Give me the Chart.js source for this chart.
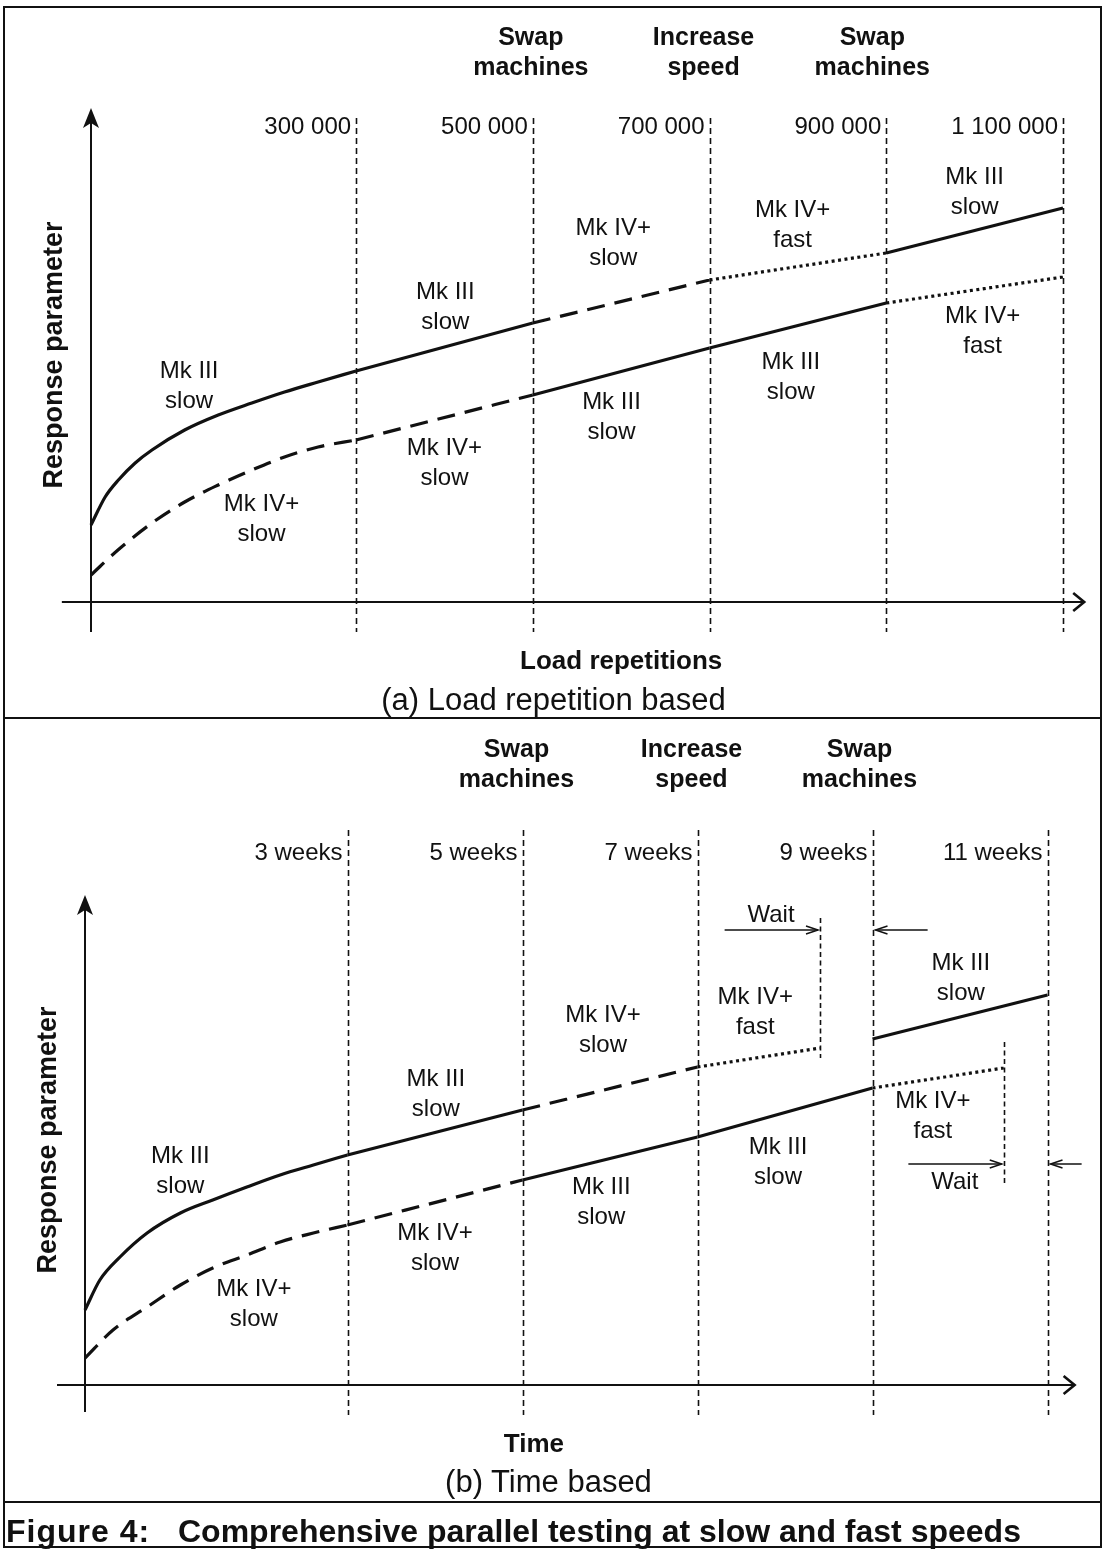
<!DOCTYPE html>
<html>
<head>
<meta charset="utf-8">
<script src="https://cdn.jsdelivr.net/npm/chart.js@4.4.1/dist/chart.umd.min.js"></script>
<style>
  body { margin: 0; background: #fff; font-family: "Liberation Sans", Arial, sans-serif; color: #111; }
  #page { position: relative; width: 1109px; height: 1549px; overflow: hidden; }
  canvas { position: absolute; left: 0; }
  #frame { position: absolute; left: 3px; top: 6px; width: 1099px; height: 1542px; border: 2px solid #111; box-sizing: border-box; }
  .hline { position: absolute; left: 3px; width: 1099px; border-top: 2px solid #111; }
  .sub { position: absolute; left: 0; width: 1109px; text-align: center; font-size: 31px; line-height: 36px; }
  .cap { position: absolute; top: 1513px; font-size: 32px; font-weight: bold; line-height: 36px; }
</style>
</head>
<body>
<div id="page">
  <canvas id="chartA" width="1109" height="718" style="top:0"></canvas>
  <canvas id="chartB" width="1109" height="788" style="top:718px"></canvas>
  <div id="frame"></div>
  <div class="hline" style="top:717px"></div>
  <div class="hline" style="top:1501px"></div>
  <div class="sub" style="top:682px; left:-1px">(a) Load repetition based</div>
  <div class="sub" style="top:1464px; left:-6px">(b) Time based</div>
  <div class="cap" style="left:6px; letter-spacing:1px">Figure 4:</div>
  <div class="cap" style="left:178px">Comprehensive parallel testing at slow and fast speeds</div>
</div>
<script>
// ---- panel (a): load repetition based ----
const repBounds = [300000, 500000, 700000, 900000, 1100000];
const repTicks = ['300 000', '500 000', '700 000', '900 000', '1 100 000'];
const repUpperX = [0, 16000, 31000, 50000, 69000, 106000, 144000, 182000, 219000, 257000, 300000, 500000, 700000, 900000, 1100000];
const repUpperY = [15.4, 21, 24.4, 27.8, 30.4, 34.4, 37.4, 39.8, 42, 44, 46.2, 55.8, 64.4, 69.8, 78.8];
const repLowerX = [0, 30500, 69000, 106000, 144000, 182000, 219000, 257000, 300000, 500000, 700000, 900000, 1100000];
const repLowerY = [5.4, 10.4, 15.8, 20, 23.4, 26.4, 29, 31, 32.4, 41.4, 50.8, 59.8, 65];

// ---- panel (b): time based ----
const weekBounds = [3, 5, 7, 9, 11];
const weekTicks = ['3 weeks', '5 weeks', '7 weeks', '9 weeks', '11 weeks'];
const weekUpperX = [0, 0.17, 0.4, 0.71, 1.09, 1.46, 1.85, 2.23, 2.61, 3, 5, 7, 8.4, 8.7, 9, 11];
const weekUpperY = [15, 21, 25.6, 30.4, 34.4, 37, 39.6, 42, 44, 46, 55, 63.6, 67.4, null, 69.2, 78];
const weekLowerX = [0, 0.32, 0.71, 1.09, 1.46, 1.85, 2.23, 2.61, 3, 5, 7, 9, 10.5];
const weekLowerY = [5.4, 11, 15.6, 20, 23.4, 26, 28.6, 30.4, 32, 41, 49.6, 59.4, 63.4];
const waitEnds = [8.4, 10.5];

// which machine / speed runs in each phase
const upperPhases = ['Mk III slow', 'Mk III slow', 'Mk IV+ slow', 'Mk IV+ fast', 'Mk III slow'];
const lowerPhases = ['Mk IV+ slow', 'Mk IV+ slow', 'Mk III slow', 'Mk III slow', 'Mk IV+ fast'];
const events = ['Swap machines', 'Increase speed', 'Swap machines']; // at bounds 1..3

const INK = '#111';
const FONT = '"Liberation Sans", Arial, sans-serif';

function dashFor(phase) {
  if (phase === 'Mk IV+ fast') return [3, 3.5];
  if (phase === 'Mk IV+ slow') return [18, 10];
  return [];
}

// one dataset per phase, so the line style changes at each boundary
function pieces(xs, ys, phases, bounds) {
  const lo = [0].concat(bounds);
  return phases.map((p, i) => {
    const pts = [];
    xs.forEach((x, k) => {
      if (x >= lo[i] && x <= lo[i + 1]) pts.push({ x: x, y: ys[k] });
    });
    return {
      data: pts,
      borderColor: INK,
      borderWidth: 3.2,
      borderDash: dashFor(p),
      pointRadius: 0,
      cubicInterpolationMode: 'monotone',
      spanGaps: false,
      clip: false
    };
  });
}

function seg(ctx, x1, y1, x2, y2) {
  ctx.beginPath();
  ctx.moveTo(x1, y1);
  ctx.lineTo(x2, y2);
  ctx.stroke();
}

function text2(ctx, lines, px, py, gap) {
  lines.forEach((t, i) => ctx.fillText(t, px, py + (i - (lines.length - 1) / 2) * gap));
}

function smallArrow(ctx, x1, y, x2) {
  const d = x2 > x1 ? 1 : -1;
  ctx.setLineDash([]);
  ctx.lineWidth = 1.5;
  seg(ctx, x1, y, x2, y);
  ctx.beginPath();
  ctx.moveTo(x2 - d * 12, y - 4);
  ctx.lineTo(x2, y);
  ctx.lineTo(x2 - d * 12, y + 4);
  ctx.stroke();
}

function sketch(cfg) {
  return {
    id: 'sketch',
    beforeDatasetsDraw(chart) {
      const ctx = chart.ctx;
      const xs = chart.scales.x, ys = chart.scales.y;
      ctx.save();
      ctx.strokeStyle = INK;
      ctx.fillStyle = INK;

      // phase boundaries
      ctx.lineWidth = 1.6;
      ctx.setLineDash([6, 4]);
      cfg.bounds.forEach(b => {
        const px = Math.round(xs.getPixelForValue(b)) + 0.5;
        seg(ctx, px, ys.getPixelForValue(cfg.phaseTop), px, ys.getPixelForValue(cfg.phaseBottom));
      });

      // axes
      ctx.setLineDash([]);
      ctx.lineWidth = 2;
      const ox = xs.getPixelForValue(0), oy = ys.getPixelForValue(0);
      const yTop = ys.getPixelForValue(cfg.yAxis[1]);
      seg(ctx, ox, ys.getPixelForValue(cfg.yAxis[0]), ox, yTop + 6);
      ctx.beginPath();
      ctx.moveTo(ox, yTop);
      ctx.lineTo(ox + 8, yTop + 20);
      ctx.lineTo(ox, yTop + 15);
      ctx.lineTo(ox - 8, yTop + 20);
      ctx.closePath();
      ctx.fill();
      const xEnd = xs.getPixelForValue(cfg.xAxis[1]);
      seg(ctx, xs.getPixelForValue(cfg.xAxis[0]), oy, xEnd, oy);
      ctx.lineWidth = 2.6;
      ctx.beginPath();
      ctx.moveTo(xEnd - 11, oy - 9);
      ctx.lineTo(xEnd, oy);
      ctx.lineTo(xEnd - 11, oy + 9);
      ctx.stroke();

      // wait markers (time based panel)
      if (cfg.waits) {
        ctx.lineWidth = 1.6;
        ctx.setLineDash([5, 3.5]);
        cfg.waits.forEach(w => {
          const px = Math.round(xs.getPixelForValue(w.at)) + 0.5;
          seg(ctx, px, ys.getPixelForValue(w.top), px, ys.getPixelForValue(w.bottom));
        });
        cfg.waits.forEach(w => {
          const ay = ys.getPixelForValue(w.arrowY);
          smallArrow(ctx, xs.getPixelForValue(w.from), ay, xs.getPixelForValue(w.at) - 2);
          smallArrow(ctx, xs.getPixelForValue(w.backFrom), ay, xs.getPixelForValue(w.backTo) + 3);
        });
      }
      ctx.restore();
    },
    afterDraw(chart) {
      const ctx = chart.ctx;
      const xs = chart.scales.x, ys = chart.scales.y;
      ctx.save();
      ctx.fillStyle = INK;
      ctx.textBaseline = 'middle';

      // tick labels at phase boundaries
      ctx.font = '24px ' + FONT;
      ctx.textAlign = 'right';
      cfg.bounds.forEach((b, i) => {
        ctx.fillText(cfg.ticks[i], xs.getPixelForValue(b) - 5, ys.getPixelForValue(cfg.tickY));
      });

      // events above the boundaries
      ctx.font = 'bold 25px ' + FONT;
      ctx.textAlign = 'center';
      events.forEach((e, i) => {
        const px = xs.getPixelForValue(cfg.bounds[i + 1]) + cfg.eventShift[i];
        text2(ctx, e.split(' '), px, ys.getPixelForValue(cfg.eventY), 30);
      });

      // machine / speed labels for each phase
      ctx.font = '24px ' + FONT;
      const lab = (p, at) => {
        const parts = p.split(' ');
        text2(ctx, [parts[0] + ' ' + parts[1], parts[2]], xs.getPixelForValue(at[0]), ys.getPixelForValue(at[1]), 30);
      };
      upperPhases.forEach((p, i) => lab(p, cfg.upperAt[i]));
      lowerPhases.forEach((p, i) => lab(p, cfg.lowerAt[i]));
      if (cfg.waits) {
        cfg.waits.forEach(w => ctx.fillText('Wait', xs.getPixelForValue(w.textAt[0]), ys.getPixelForValue(w.textAt[1])));
      }

      // axis titles
      ctx.font = 'bold 26px ' + FONT;
      ctx.fillText(cfg.xTitle, xs.getPixelForValue(cfg.xTitleAt[0]), ys.getPixelForValue(cfg.xTitleAt[1]));
      ctx.save();
      ctx.font = 'bold 27px ' + FONT;
      ctx.translate(xs.getPixelForValue(cfg.yTitleAt[0]), ys.getPixelForValue(cfg.yTitleAt[1]));
      ctx.rotate(-Math.PI / 2);
      ctx.fillText('Response parameter', 0, 0);
      ctx.restore();
      ctx.restore();
    }
  };
}

function makeChart(id, datasets, xMax, padding, cfg) {
  return new Chart(document.getElementById(id), {
    type: 'line',
    data: { datasets: datasets },
    options: {
      responsive: false,
      animation: false,
      devicePixelRatio: 1,
      layout: { padding: padding },
      plugins: { legend: { display: false }, tooltip: { enabled: false } },
      scales: {
        x: { type: 'linear', min: 0, max: xMax, display: false },
        y: { type: 'linear', min: 0, max: 100, display: false }
      }
    },
    plugins: [sketch(cfg)]
  });
}

makeChart('chartA',
  pieces(repUpperX, repUpperY, upperPhases, repBounds).concat(pieces(repLowerX, repLowerY, lowerPhases, repBounds)),
  1100000,
  { left: 91, right: 46, top: 102, bottom: 116 },
  {
    bounds: repBounds, ticks: repTicks,
    phaseTop: 96.8, phaseBottom: -6,
    yAxis: [-6, 98.8], xAxis: [-33000, 1124000],
    tickY: 95, eventY: 109.8, eventShift: [-2, -6, -14],
    upperAt: [[111000, 43.2], [401000, 59], [591000, 71.8], [794000, 75.4], [1000000, 82]],
    lowerAt: [[193000, 16.6], [400000, 27.8], [589000, 37], [792000, 45], [1009000, 54.2]],
    xTitle: 'Load repetitions', xTitleAt: [600000, -12],
    yTitleAt: [-40700, 49.4]
  });

makeChart('chartB',
  pieces(weekUpperX, weekUpperY, upperPhases, weekBounds).concat(pieces(weekLowerX, weekLowerY, lowerPhases, weekBounds)),
  11,
  { left: 85, right: 61.5, top: 167, bottom: 121 },
  {
    bounds: weekBounds, ticks: weekTicks,
    phaseTop: 111, phaseBottom: -6,
    yAxis: [-5.4, 98], xAxis: [-0.32, 11.31],
    tickY: 106.4, eventY: 123.9, eventShift: [-6, -6, -13],
    upperAt: [[1.09, 42.8], [4.01, 58.2], [5.92, 71], [7.66, 74.6], [10.01, 81.4]],
    lowerAt: [[1.93, 16.2], [4.0, 27.4], [5.9, 36.6], [7.92, 44.6], [9.69, 53.8]],
    waits: [
      { at: waitEnds[0], top: 93.4, bottom: 65.4, arrowY: 91, from: 7.31, backFrom: 9.63, backTo: 9, textAt: [7.84, 94] },
      { at: waitEnds[1], top: 68.6, bottom: 40.4, arrowY: 44.2, from: 9.41, backFrom: 11.39, backTo: 11, textAt: [9.94, 40.6] }
    ],
    xTitle: 'Time', xTitleAt: [5.13, -12],
    yTitleAt: [-0.42, 49]
  });
</script>
</body>
</html>
